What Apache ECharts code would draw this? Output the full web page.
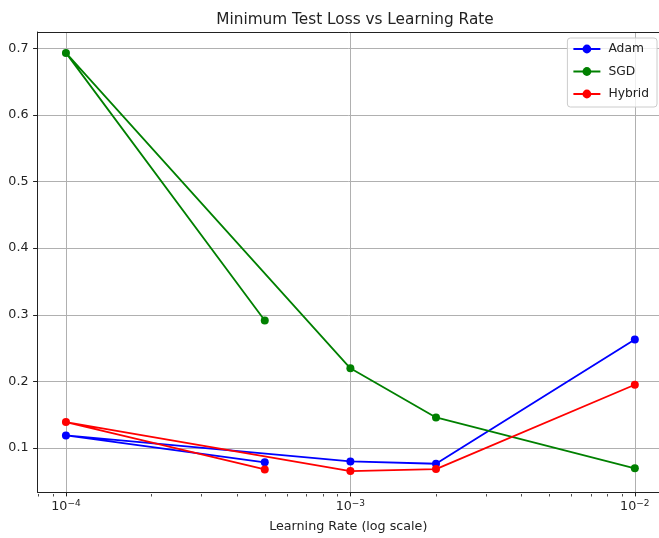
<!DOCTYPE html>
<html>
<head>
<meta charset="utf-8">
<script src="https://cdn.jsdelivr.net/npm/echarts@6/dist/echarts.min.js"></script>
<style>
  html, body { margin: 0; padding: 0; background: #ffffff; }
  #chart { width: 659px; height: 538px; }
</style>
</head>
<body>
<div id="chart"></div>
<script>
// Learning rates in the order the runs were recorded
const learningRates = [5e-4, 1e-4, 1e-3, 2e-3, 1e-2];
// Minimum test loss reached by each optimizer
const adamLoss   = [0.0786, 0.119, 0.080, 0.0765, 0.263];
const sgdLoss    = [0.2915, 0.693, 0.2197, 0.146, 0.0696];
const hybridLoss = [0.068, 0.139, 0.0655, 0.0685, 0.195];

const seriesNames = ['Adam', 'SGD', 'Hybrid'];
const yTicks = [0.1, 0.2, 0.3, 0.4, 0.5, 0.6, 0.7];
const xMajorTicks = [1e-4, 1e-3, 1e-2];
const xMinorTicks = [8e-5, 9e-5,
  2e-4, 3e-4, 4e-4, 5e-4, 6e-4, 7e-4, 8e-4, 9e-4,
  2e-3, 3e-3, 4e-3, 5e-3, 6e-3, 7e-3, 8e-3, 9e-3];

const FONT = 'DejaVu Sans';
const INK = '#222222';

// x extent: 5% of the log span below the data; the figure's right edge
// trims the axes a little past 1e-2, so the visible extent stops there
const logLo = Math.log10(Math.min(...learningRates));
const logHi = Math.log10(Math.max(...learningRates));
const logPad = 0.05 * (logHi - logLo);
const xMin = Math.pow(10, logLo - logPad);
const xMax = Math.pow(10, logHi + 0.085);
// y extent padded by 5% of the data span
const allLoss = adamLoss.concat(sgdLoss, hybridLoss);
const yLo = Math.min(...allLoss), yHi = Math.max(...allLoss);
const yPad = 0.05 * (yHi - yLo);
const yMin = yLo - yPad, yMax = yHi + yPad;

const pairs = ys => learningRates.map((x, i) => [x, ys[i]]);

const plotRect = { left: 37.5, top: 32, right: 0, height: 462 };

const supLabel = v => {
  const e = Math.round(Math.log10(v));
  return '{b|10}{e|' + (e < 0 ? '\u2212' : '') + Math.abs(e) + '}';
};

const chart = echarts.init(document.getElementById('chart'), null, { renderer: 'canvas' });

const makeSeries = (name, ys, color) => ({
  name: name,
  type: 'line',
  xAxisIndex: 0,
  yAxisIndex: 0,
  data: pairs(ys),
  symbol: 'circle',
  symbolSize: 8,
  showSymbol: true,
  lineStyle: { color: color, width: 1.8 },
  itemStyle: { color: color },
  emphasis: { disabled: true },
  z: 3
});

chart.setOption({
  animation: false,
  backgroundColor: '#ffffff',
  title: {
    text: 'Minimum Test Loss vs Learning Rate',
    left: 350,
    textAlign: 'center',
    top: 8,
    textStyle: { fontFamily: FONT, fontSize: 15.3, fontWeight: 'normal', color: INK }
  },
  legend: {
    data: seriesNames,
    orient: 'vertical',
    right: 2,
    top: 38,
    padding: [5, 8, 7, 5],
    itemWidth: 27,
    itemHeight: 11,
    itemGap: 10.5,
    backgroundColor: 'rgba(255,255,255,0.8)',
    borderColor: '#cccccc',
    borderWidth: 1,
    borderRadius: 3,
    textStyle: { fontFamily: FONT, fontSize: 12.3, color: INK, padding: [0, 0, 0, 3] }
  },
  grid: [
    Object.assign({ containLabel: false }, plotRect),
    Object.assign({ containLabel: false }, plotRect)
  ],
  xAxis: [
    {
      type: 'log', logBase: 10, gridIndex: 0, position: 'bottom',
      min: xMin, max: xMax,
      name: 'Learning Rate (log scale)',
      nameLocation: 'middle',
      nameGap: 28,
      nameTextStyle: { fontFamily: FONT, fontSize: 12.7, color: INK },
      axisLine: { show: true, onZero: false, lineStyle: { color: INK, width: 1 } },
      axisTick: { show: true, customValues: xMajorTicks, length: 4.4, lineStyle: { color: INK, width: 1 } },
      minorTick: { show: false },
      axisLabel: {
        customValues: xMajorTicks,
        margin: 7,
        formatter: supLabel,
        rich: {
          b: { fontFamily: FONT, fontSize: 12.7, color: INK, lineHeight: 16 },
          e: { fontFamily: FONT, fontSize: 9, color: INK, verticalAlign: 'top', lineHeight: 10 }
        }
      },
      splitLine: { show: true, lineStyle: { color: '#b0b0b0', width: 1 } }
    },
    {
      type: 'log', logBase: 10, gridIndex: 0, position: 'top',
      min: xMin, max: xMax,
      axisLine: { show: true, onZero: false, lineStyle: { color: INK, width: 1 } },
      axisTick: { show: false }, axisLabel: { show: false }, splitLine: { show: false }
    },
    {
      type: 'log', logBase: 10, gridIndex: 1, position: 'bottom',
      min: xMin, max: xMax,
      axisLine: { show: false, onZero: false },
      axisTick: { show: true, customValues: xMinorTicks, length: 2.5, lineStyle: { color: INK, width: 0.8 } },
      axisLabel: { show: false }, splitLine: { show: false }
    }
  ],
  yAxis: [
    {
      type: 'value', gridIndex: 0, position: 'left',
      min: yMin, max: yMax,
      axisLine: { show: true, onZero: false, lineStyle: { color: INK, width: 1 } },
      axisTick: { show: true, customValues: yTicks, length: 4.4, lineStyle: { color: INK, width: 1 } },
      axisLabel: {
        customValues: yTicks,
        margin: 9,
        fontFamily: FONT, fontSize: 12.7, color: INK,
        formatter: v => v.toFixed(1)
      },
      splitLine: { show: true, lineStyle: { color: '#b0b0b0', width: 1 } }
    },
    {
      type: 'value', gridIndex: 1, min: yMin, max: yMax, show: false
    }
  ],
  series: [
    makeSeries('Adam', adamLoss, '#0000ff'),
    makeSeries('SGD', sgdLoss, '#008000'),
    makeSeries('Hybrid', hybridLoss, '#ff0000')
  ]
});
</script>
</body>
</html>
